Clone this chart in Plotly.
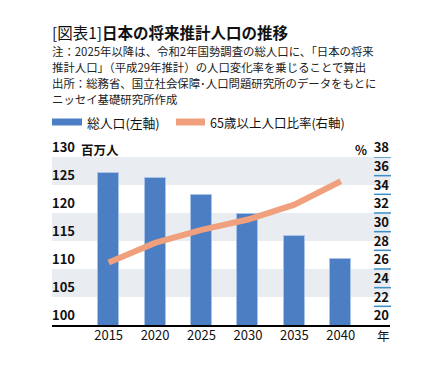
import plotly.graph_objects as go

# ---------------- data ----------------
years = [2015, 2020, 2025, 2030, 2035, 2040]
population = [127.1, 126.2, 123.3, 119.9, 115.9, 111.7]      # 百万人 (left axis)
elderly_ratio = [26.7, 28.8, 30.2, 31.3, 32.9, 35.4]         # % (right axis)
left_ticks = [100, 105, 110, 115, 120, 125, 130]
right_ticks = [20, 22, 24, 26, 28, 30, 32, 34, 36, 38]
legend_labels = ["総人口(左軸)", "65歳以上人口比率(右軸)"]
title_prefix = "[図表1]"
title_main = "日本の将来推計人口の推移"
note_lines = [
    "注：2025年以降は、令和2年国勢調査の総人口に、「日本の将来",
    "推計人口」（平成29年推計）の人口変化率を乗じることで算出",
    "出所：総務省、国立社会保障･人口問題研究所のデータをもとに",
    "ニッセイ基礎研究所作成",
]

# ---------------- layout helpers (screen coordinates) ----------------
SCREEN_W, SCREEN_H = 440, 370
OX, OY = 8, 8                        # default page body margin
W, H = SCREEN_W - OX, SCREEN_H - OY
PLOT_X0, PLOT_X1 = 52, 390           # plot area on screen
PLOT_Y0, PLOT_Y1 = 157, 325
L, R = PLOT_X0 - OX, SCREEN_W - PLOT_X1
T, B = PLOT_Y0 - OY, SCREEN_H - PLOT_Y1
PW, PH = PLOT_X1 - PLOT_X0, PLOT_Y1 - PLOT_Y0
FONT = "Noto Sans CJK JP"
BAR_COLOR = "#4C7EC4"
LINE_COLOR = "#F0A07C"
BAND_COLOR = "#E9ECF0"
TICK_BLUE = "#3D8EC4"


def fx(px):
    return (px - PLOT_X0) / PW


def fy(py):
    return (PLOT_Y1 - py) / PH


fig = go.Figure()

fig.add_trace(go.Bar(
    x=years, y=population, width=2.26,
    marker=dict(color=BAR_COLOR, line=dict(color="#A9C4E8", width=1)),
    name=legend_labels[0], showlegend=False, yaxis="y",
))
fig.add_trace(go.Scatter(
    x=years, y=elderly_ratio, mode="lines",
    line=dict(color=LINE_COLOR, width=6),
    name=legend_labels[1], showlegend=False, yaxis="y2",
))

shapes = []
# alternating grey bands
for i in range(len(left_ticks) - 1):
    if i % 2 == 1:
        shapes.append(dict(type="rect", xref="paper", yref="y", x0=0, x1=1,
                           y0=left_ticks[i], y1=left_ticks[i + 1],
                           fillcolor=BAND_COLOR, line=dict(width=0), layer="below"))
# right-axis tick underlines
for v in right_ticks[1:]:
    shapes.append(dict(type="line", xref="paper", yref="y2", x0=fx(374), x1=fx(391),
                       y0=v, y1=v, line=dict(color=TICK_BLUE, width=1.5)))
# legend swatches
shapes.append(dict(type="rect", xref="paper", yref="paper",
                   x0=fx(52), x1=fx(82), y0=fy(118.5), y1=fy(125.5),
                   fillcolor=BAR_COLOR, line=dict(width=0)))
shapes.append(dict(type="rect", xref="paper", yref="paper",
                   x0=fx(176), x1=fx(205), y0=fy(118.5), y1=fy(125.5),
                   fillcolor=LINE_COLOR, line=dict(width=0)))

annotations = [
    dict(text=title_prefix + "<b>" + title_main + "</b>", xref="paper", yref="paper",
         x=fx(50), y=fy(31.5), xanchor="left", yanchor="middle", showarrow=False,
         font=dict(family=FONT, size=15.5, color="#111111")),
]
for i, line in enumerate(note_lines):
    annotations.append(dict(text=line, xref="paper", yref="paper",
                            x=fx(50), y=fy(51 + i * 16), xanchor="left", yanchor="middle",
                            showarrow=False, font=dict(family=FONT, size=11.4, color="#222222")))
annotations += [
    dict(text=legend_labels[0], xref="paper", yref="paper", x=fx(85), y=fy(122),
         xanchor="left", yanchor="middle", showarrow=False,
         font=dict(family=FONT, size=12.8, color="#111111")),
    dict(text=legend_labels[1], xref="paper", yref="paper", x=fx(208), y=fy(122),
         xanchor="left", yanchor="middle", showarrow=False,
         font=dict(family=FONT, size=12.5, color="#111111")),
    dict(text="<b>百万人</b>", xref="paper", yref="paper", x=fx(79), y=fy(149),
         xanchor="left", yanchor="middle", showarrow=False,
         font=dict(family=FONT, size=12.5, color="#111111")),
    dict(text="<b>%</b>", xref="paper", yref="paper", x=fx(361), y=fy(149),
         xanchor="center", yanchor="middle", showarrow=False,
         font=dict(family=FONT, size=12.5, color="#111111")),
    dict(text="年", xref="paper", yref="paper", x=fx(383), y=fy(335),
         xanchor="center", yanchor="middle", showarrow=False,
         font=dict(family=FONT, size=12.5, color="#111111")),
]

fig.update_layout(
    width=W, height=H,
    margin=dict(l=L, r=R, t=T, b=B, pad=0),
    paper_bgcolor="white", plot_bgcolor="white",
    bargap=0, showlegend=False,
    font=dict(family=FONT, color="#111111"),
    shapes=shapes, annotations=annotations,
    xaxis=dict(range=[2008.9, 2045.3], tickvals=years, ticktext=[str(y) for y in years],
               showline=True, linecolor="#000000", linewidth=1.5, ticks="",
               showgrid=False, zeroline=False, ticklabelstandoff=-2,
               tickfont=dict(family=FONT, size=13, color="#111111")),
    yaxis=dict(range=[left_ticks[0], left_ticks[-1]], tickvals=left_ticks,
               ticklabelposition="inside top", ticklabeloverflow="allow",
               ticklabelstandoff=-3,
               showgrid=False, zeroline=False, showline=False, ticks="",
               tickfont=dict(family=FONT, size=13, color="#111111", weight="bold")),
    yaxis2=dict(range=[right_ticks[0], right_ticks[-1]], tickvals=right_ticks,
                overlaying="y", side="right", ticks="",
                ticklabelposition="inside top", ticklabeloverflow="allow",
                ticklabelstandoff=-2,
                showgrid=False, zeroline=False, showline=False,
                tickfont=dict(family=FONT, size=13, color="#111111", weight="bold")),
)

fig.write_html("out.html")
